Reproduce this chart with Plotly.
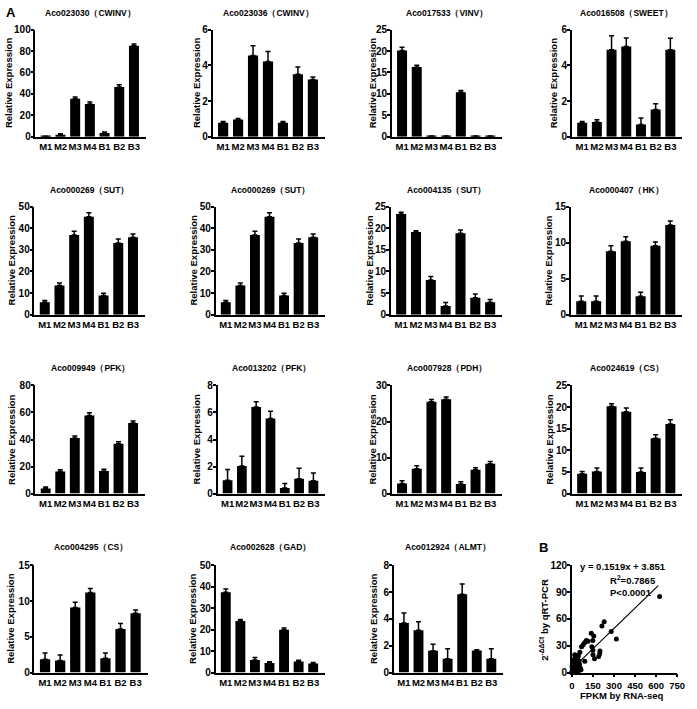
import plotly.graph_objects as go

W, H = 697, 709
categories = ["M1", "M2", "M3", "M4", "B1", "B2", "B3"]

titles = [
    "Aco023030（CWINV）", "Aco023036（CWINV）", "Aco017533（VINV）", "Aco016508（SWEET）",
    "Aco000269（SUT）", "Aco000269（SUT）", "Aco004135（SUT）", "Aco000407（HK）",
    "Aco009949（PFK）", "Aco013202（PFK）", "Aco007928（PDH）", "Aco024619（CS）",
    "Aco004295（CS）", "Aco002628（GAD）", "Aco012924（ALMT）",
]

values = [
    [0.3, 1.8, 35.5, 30.5, 3.5, 46.5, 85.0],
    [0.78, 0.97, 4.55, 4.22, 0.78, 3.5, 3.2],
    [20.1, 16.3, 0.05, 0.05, 10.4, 0.05, 0.05],
    [0.78, 0.83, 4.87, 5.05, 0.68, 1.52, 4.87],
    [5.8, 13.5, 36.8, 45.3, 8.9, 33.2, 35.8],
    [5.8, 13.5, 36.8, 45.3, 8.9, 33.2, 35.8],
    [23.3, 19.1, 8.0, 2.0, 18.8, 3.9, 2.9],
    [1.85, 1.85, 8.8, 10.2, 2.55, 9.55, 12.45],
    [3.8, 16.3, 41.2, 57.8, 16.8, 36.8, 52.2],
    [0.98, 2.05, 6.4, 5.55, 0.42, 1.1, 0.95],
    [2.8, 6.9, 25.5, 26.2, 2.7, 6.6, 8.3],
    [4.6, 5.1, 20.2, 18.9, 5.0, 12.8, 16.1],
    [1.85, 1.7, 9.1, 11.2, 2.0, 6.1, 8.3],
    [37.5, 24.0, 5.8, 4.4, 20.0, 5.1, 4.2],
    [3.7, 3.15, 1.62, 1.02, 5.85, 1.65, 1.02],
]

errors = [
    [0.2, 1.0, 1.5, 2.0, 1.0, 2.0, 1.5],
    [0.07, 0.05, 0.55, 0.55, 0.07, 0.4, 0.15],
    [0.8, 0.4, 0.1, 0.1, 0.4, 0.1, 0.1],
    [0.08, 0.12, 0.78, 0.48, 0.37, 0.33, 0.65],
    [0.8, 1.2, 1.8, 1.8, 1.0, 1.8, 1.5],
    [0.8, 1.2, 1.8, 1.8, 1.0, 1.8, 1.5],
    [0.4, 0.3, 0.8, 0.8, 0.8, 0.9, 0.6],
    [0.75, 0.75, 0.75, 0.6, 0.55, 0.55, 0.55],
    [1.0, 1.3, 1.5, 2.0, 1.3, 1.5, 1.5],
    [0.8, 0.72, 0.4, 0.55, 0.32, 0.78, 0.57],
    [0.8, 0.8, 0.6, 0.6, 0.6, 0.6, 0.6],
    [0.5, 0.8, 0.6, 0.9, 0.9, 0.8, 1.0],
    [0.9, 0.75, 0.75, 0.55, 0.75, 0.75, 0.45],
    [1.5, 0.8, 1.2, 0.6, 0.8, 0.6, 0.5],
    [0.75, 0.65, 0.5, 0.75, 0.75, 0.05, 0.75],
]

y_max = [100, 6, 25, 6, 50, 50, 25, 15, 80, 8, 30, 25, 15, 50, 8]
y_step = [20, 2, 5, 2, 10, 10, 5, 5, 20, 2, 10, 5, 5, 10, 2]

# scatter (panel B)
fpkm = [625, 317, 280, 230, 214, 200, 198, 191, 138, 156, 149, 142, 150, 150, 161,
        103, 115, 92, 80, 69, 92, 57, 46, 34,
        2, 3, 5, 4, 6, 8, 10, 12, 15, 7, 9, 14, 18, 20, 22, 25, 28, 30, 16, 12,
        35, 40, 45, 50, 33, 38, 26, 24, 42, 55, 60, 65, 48, 3, 1, 5, 8, 20, 30, 2,
        10, 18, 36, 52]
qpcr = [85, 37.5, 46, 57, 52, 24, 21, 18, 44, 41, 36, 29, 25, 20, 15.5,
        36, 35, 33.5, 31, 29, 12.6, 22.7, 19, 16,
        0.5, 1, 0.8, 2, 1.5, 3, 2, 4, 3, 5, 6, 7, 5, 8, 4, 6, 10, 7, 12, 9,
        5, 8, 4, 6, 14, 12, 15, 18, 17, 9, 5, 3, 2, 4, 1, 10, 14, 20, 19, 7,
        11, 2, 2, 13]
slope, intercept = 0.1519, 3.851
line_x = [0, 615]

# layout geometry (pixels): x-axis left/right, y top/bottom
col_x = [
    [(33, 145), (213, 327), (395, 507), (578, 690)],
    [(32, 144), (216, 327), (394, 507), (577, 690)],
    [(33, 144), (218, 327), (395, 507), (578, 690)],
    [(32, 147), (216, 327), (397, 508), (578, 685)],
]
row_y = [(24, 133), (204, 314), (386, 496), (569, 678)]
title_y = [7, 187, 368, 550]
ytitle_x = [
    [5, 196, 375, 559],
    [9, 194, 373, 554],
    [8.5, 197, 375, 555],
    [8, 193, 377, 550],
]

FONT = "Liberation Sans, Arial, sans-serif"
fig = go.Figure()
layout = dict(
    width=W, height=H, margin=dict(l=0, r=0, t=0, b=0),
    paper_bgcolor="white", plot_bgcolor="white", showlegend=False,
    font=dict(family=FONT, color="black"),
)
annotations = []

def axis_common(size=10):
    return dict(showline=True, linecolor="black", linewidth=1.5, showgrid=False,
                zeroline=False, tickangle=0, ticklabeloverflow="allow",
                tickfont=dict(family=FONT, size=size, color="black", weight="bold"))

for i in range(16):
    r, c = divmod(i, 4)
    x0, x1 = col_x[r][c]
    yt, yb = row_y[r]
    n = i + 1
    xa = "xaxis" if n == 1 else f"xaxis{n}"
    ya = "yaxis" if n == 1 else f"yaxis{n}"
    xref = "x" if n == 1 else f"x{n}"
    yref = "y" if n == 1 else f"y{n}"
    xd = [x0 / W, x1 / W]
    yd = [(H - yb) / H, (H - yt) / H]
    if i < 15:
        fig.add_trace(go.Bar(
            x=list(range(7)), y=values[i], xaxis=xref, yaxis=yref, width=0.68,
            marker=dict(color="black", line=dict(width=0)),
            error_y=dict(type="data", array=errors[i], arrayminus=[0] * 7, visible=True,
                         color="black", thickness=1.5, width=2.5),
        ))
        xd_ax = axis_common(9.5)
        xd_ax.update(domain=xd, range=[-0.7, 6.8], tickmode="array", tickvals=list(range(7)),
                     ticktext=categories, ticks="", anchor=yref)
        yd_ax = axis_common(10)
        yd_ax.update(domain=yd, range=[0, y_max[i]], tickmode="linear", tick0=0, dtick=y_step[i],
                     ticks="outside", ticklen=3, tickwidth=1.5, tickcolor="black", anchor=xref,
                     ticklabelstandoff=-2)
        layout[xa] = xd_ax
        layout[ya] = yd_ax
        annotations.append(dict(
            x=(x0 + x1) / 2 / W, y=(H - title_y[r]) / H, xref="paper", yref="paper",
            text=titles[i], showarrow=False, xanchor="center", yanchor="middle",
            font=dict(family=FONT, size=8.5, color="black", weight="bold"),
        ))
        annotations.append(dict(
            x=ytitle_x[r][c] / W, y=(H - (yt + yb) / 2) / H, xref="paper", yref="paper",
            text="Relative Expression", textangle=-90, showarrow=False,
            xanchor="center", yanchor="middle",
            font=dict(family=FONT, size=9.5, color="black", weight="bold"),
        ))
    else:
        fig.add_trace(go.Scatter(
            x=fpkm, y=qpcr, mode="markers", xaxis=xref, yaxis=yref,
            marker=dict(color="black", size=5), cliponaxis=False,
        ))
        fig.add_trace(go.Scatter(
            x=line_x, y=[slope * v + intercept for v in line_x], mode="lines",
            xaxis=xref, yaxis=yref, line=dict(color="black", width=1.2),
        ))
        xd_ax = axis_common(9.5)
        xd_ax.update(domain=xd, range=[0, 750], tickmode="linear", tick0=0, dtick=150,
                     ticks="outside", ticklen=3, tickwidth=1.5, tickcolor="black", anchor=yref)
        yd_ax = axis_common(10)
        yd_ax.update(domain=yd, range=[0, 120], tickmode="linear", tick0=0, dtick=30,
                     ticks="outside", ticklen=3, tickwidth=1.5, tickcolor="black", anchor=xref,
                     ticklabelstandoff=-2)
        layout[xa] = xd_ax
        layout[ya] = yd_ax
        annotations += [
            dict(x=630 / W, y=(H - 570) / H, text="y = 0.1519x + 3.851"),
            dict(x=640 / W, y=(H - 584) / H, text="R<sup>2</sup>=0.7865"),
            dict(x=638 / W, y=(H - 597) / H, text="P&lt;0.0001"),
            dict(x=629 / W, y=(H - 701) / H, text="FPKM by RNA-seq"),
            dict(x=550 / W, y=(H - 624) / H, text="2<sup>-ΔΔCt</sup> by qRT-PCR", textangle=-90),
        ]
        for a in annotations[-5:]:
            a.update(xref="paper", yref="paper", showarrow=False, xanchor="center", yanchor="middle",
                     font=dict(family=FONT, size=9.5, color="black", weight="bold"))

annotations += [
    dict(x=8 / W, y=(H - 7) / H, text="A"),
    dict(x=549 / W, y=(H - 551) / H, text="B"),
]
for a in annotations[-2:]:
    a.update(xref="paper", yref="paper", showarrow=False, xanchor="center", yanchor="middle",
             font=dict(family=FONT, size=13, color="black", weight="bold"))

layout["annotations"] = annotations
fig.update_layout(**layout)
fig.write_html("out.html", config={"displayModeBar": False},
               post_script="document.body.style.margin='0';")
